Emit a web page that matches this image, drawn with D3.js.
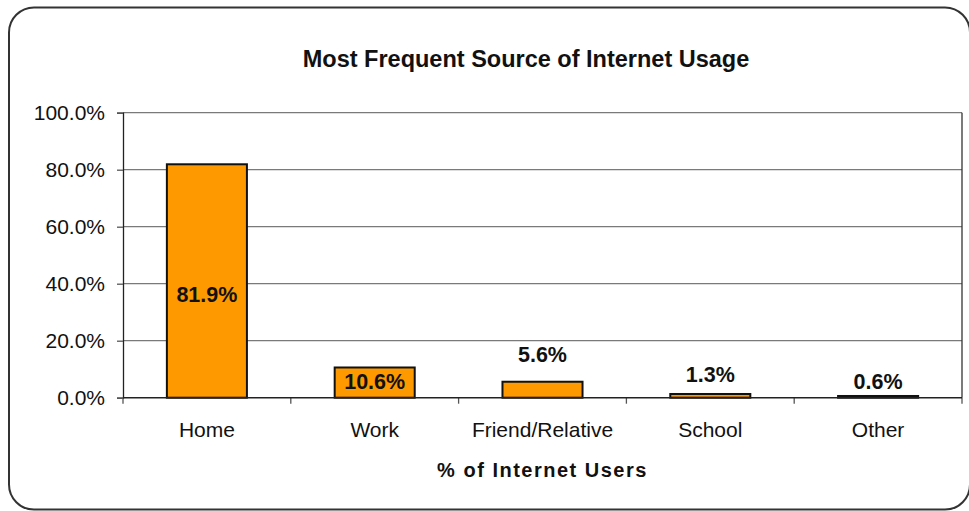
<!DOCTYPE html>
<html>
<head>
<meta charset="utf-8">
<script src="https://cdn.jsdelivr.net/npm/d3@7"></script>
<style>
  html, body { margin: 0; padding: 0; background: #fff; }
  svg { display: block; font-family: "Liberation Sans", Arial, Helvetica, sans-serif; }
</style>
</head>
<body>
<svg id="chart" width="969" height="511"></svg>
<script>
// Chart data
const categories = ["Home", "Work", "Friend/Relative", "School", "Other"];
const shares = [81.9, 10.6, 5.6, 1.3, 0.6];
const yTicks = [0, 20, 40, 60, 80, 100];
const chartTitle = "Most Frequent Source of Internet Usage";
const xAxisTitle = "% of Internet Users";

const svg = d3.select("#chart");
const plot = { left: 123, right: 962, top: 112.7, bottom: 397.7 };

// Outer rounded frame
svg.append("rect")
  .attr("x", 9).attr("y", 7.5)
  .attr("width", 961).attr("height", 502)
  .attr("rx", 25).attr("ry", 25)
  .attr("fill", "#fff")
  .attr("stroke", "#333")
  .attr("stroke-width", 2);

const x = d3.scaleBand()
  .domain(categories)
  .range([plot.left, plot.right])
  .paddingInner(0.523)
  .paddingOuter(0.2615);

const y = d3.scaleLinear()
  .domain([0, 100])
  .range([plot.bottom, plot.top]);

// Horizontal gridlines
svg.append("g")
  .selectAll("line")
  .data(yTicks.filter(t => t > 0))
  .join("line")
  .attr("x1", plot.left).attr("x2", plot.right)
  .attr("y1", d => y(d)).attr("y2", d => y(d))
  .attr("stroke", "#7a7a7a")
  .attr("stroke-width", 1.3);

// Right border of plot area
svg.append("line")
  .attr("x1", plot.right).attr("x2", plot.right)
  .attr("y1", plot.top).attr("y2", plot.bottom)
  .attr("stroke", "#333").attr("stroke-width", 1.3);

// Y axis
const yAxis = d3.axisLeft(y)
  .tickValues(yTicks)
  .tickSize(6)
  .tickPadding(12)
  .tickFormat(d => d.toFixed(1) + "%");

const gy = svg.append("g")
  .attr("transform", `translate(${plot.left},0)`)
  .call(yAxis);
gy.select(".domain").attr("stroke", "#222").attr("stroke-width", 1.3);
gy.selectAll(".tick line").attr("stroke", "#555").attr("stroke-width", 1.3);
gy.selectAll(".tick text")
  .attr("font-size", 21)
  .attr("fill", "#111")
  .attr("font-family", "Liberation Sans, Arial, sans-serif");

// Bars
svg.append("g")
  .selectAll("rect")
  .data(categories.map((c, i) => ({ c, v: shares[i] })))
  .join("rect")
  .attr("x", d => x(d.c))
  .attr("width", x.bandwidth())
  .attr("y", d => y(d.v))
  .attr("height", d => y(0) - y(d.v))
  .attr("fill", "#ff9900")
  .attr("stroke", "#111")
  .attr("stroke-width", 2);

// Category separator ticks below the baseline
const xEdges = d3.range(categories.length + 1)
  .map(i => plot.left + i * (plot.right - plot.left) / categories.length);

svg.append("g")
  .selectAll("line")
  .data(xEdges)
  .join("line")
  .attr("x1", d => d).attr("x2", d => d)
  .attr("y1", plot.bottom).attr("y2", plot.bottom + 6)
  .attr("stroke", "#555").attr("stroke-width", 1.3);

svg.append("line")
  .attr("x1", plot.left).attr("x2", plot.right)
  .attr("y1", plot.bottom).attr("y2", plot.bottom)
  .attr("stroke", "#222").attr("stroke-width", 1.5);

// Category labels
svg.append("g")
  .selectAll("text")
  .data(categories)
  .join("text")
  .attr("x", d => x(d) + x.bandwidth() / 2)
  .attr("y", 429)
  .attr("text-anchor", "middle")
  .attr("dominant-baseline", "central")
  .attr("font-size", 21)
  .attr("fill", "#111")
  .text(d => d);

// Value labels: inside the two tall bars, above the short ones
const labelShift = [131, 15, -27, -19, -14];
svg.append("g")
  .selectAll("text")
  .data(categories.map((c, i) => ({ c, v: shares[i], i })))
  .join("text")
  .attr("x", d => x(d.c) + x.bandwidth() / 2)
  .attr("y", d => y(d.v) + labelShift[d.i])
  .attr("text-anchor", "middle")
  .attr("dominant-baseline", "central")
  .attr("font-size", 21.5)
  .attr("font-weight", "bold")
  .attr("fill", "#111")
  .text(d => d.v.toFixed(1) + "%");

// Chart title
svg.append("text")
  .attr("x", 526).attr("y", 59)
  .attr("text-anchor", "middle")
  .attr("dominant-baseline", "central")
  .attr("font-size", 23.5)
  .attr("font-weight", "bold")
  .attr("fill", "#111")
  .text(chartTitle);

// X axis title
svg.append("text")
  .attr("x", (plot.left + plot.right) / 2).attr("y", 470)
  .attr("text-anchor", "middle")
  .attr("dominant-baseline", "central")
  .attr("font-size", 20)
  .attr("font-weight", "bold")
  .attr("letter-spacing", 1.5)
  .attr("fill", "#111")
  .text(xAxisTitle);
</script>
</body>
</html>
